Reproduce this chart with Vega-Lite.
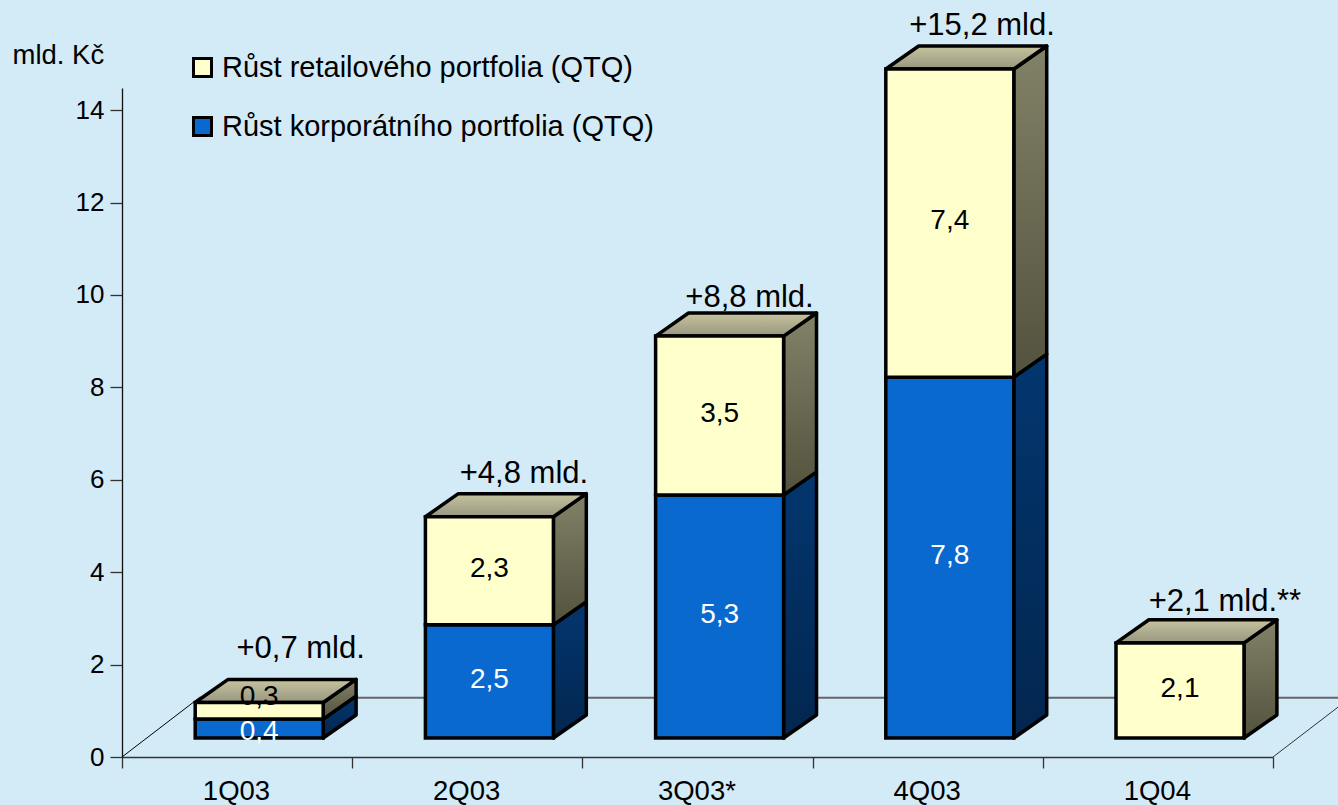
{
"$schema":"https://vega.github.io/schema/vega-lite/v6.json",
"width":1151,"height":669,
"autosize":{"type":"none"},
"padding":{"left":122,"top":88,"right":65,"bottom":48},
"background":"#D3EAF7",
"config":{"view":{"stroke":null},"font":"Liberation Sans","text":{"font":"Liberation Sans"}},
"data":{"values":[
{"quarter":"1Q03","series":"Růst korporátního portfolia (QTQ)","value":0.41,"label":"0,4"},
{"quarter":"1Q03","series":"Růst retailového portfolia (QTQ)","value":0.36,"label":"0,3","total":"+0,7 mld."},
{"quarter":"2Q03","series":"Růst korporátního portfolia (QTQ)","value":2.45,"label":"2,5"},
{"quarter":"2Q03","series":"Růst retailového portfolia (QTQ)","value":2.34,"label":"2,3","total":"+4,8 mld."},
{"quarter":"3Q03*","series":"Růst korporátního portfolia (QTQ)","value":5.26,"label":"5,3"},
{"quarter":"3Q03*","series":"Růst retailového portfolia (QTQ)","value":3.44,"label":"3,5","total":"+8,8 mld."},
{"quarter":"4Q03","series":"Růst korporátního portfolia (QTQ)","value":7.81,"label":"7,8"},
{"quarter":"4Q03","series":"Růst retailového portfolia (QTQ)","value":6.67,"label":"7,4","total":"+15,2 mld."},
{"quarter":"1Q04","series":"Růst retailového portfolia (QTQ)","value":2.06,"label":"2,1","total":"+2,1 mld.**"}
]},
"transform":[
{"stack":"value","groupby":["quarter"],"sort":[{"field":"series","order":"ascending"}],"as":["y0","y1"]},
{"calculate":"indexof(['1Q03','2Q03','3Q03*','4Q03','1Q04'],datum.quarter)","as":"i"},
{"calculate":"datum.i+0.318","as":"L"},
{"calculate":"datum.L+0.556","as":"R"},
{"calculate":"datum.y0+0.41","as":"ybot"},
{"calculate":"datum.y1+0.41","as":"ytop"},
{"calculate":"test(/retail/,datum.series)","as":"isRetail"}
],
"layer":[
{"data":{"values":[{}]},"mark":{"type":"rule","stroke":"#000000","strokeWidth":1},
 "encoding":{
  "x":{"datum":0,"type":"quantitative","title":null,"scale":{"domain":[0,5],"nice":false,"zero":false},
   "axis":{"values":[0,1,2,3,4,5],"grid":false,"title":null,"labelExpr":"['1Q03','2Q03','3Q03*','4Q03','1Q04',''][datum.value]","labelOffset":114,"labelFontSize":27.5,"labelColor":"#000000","labelFont":"Liberation Sans","labelPadding":9,"labelFlush":false,"labelBound":false,"labelOverlap":false,"labelAngle":0,"labelAlign":"center","tickSize":11,"tickColor":"#333333","tickWidth":1.3,"domainColor":"#333333","domainWidth":1.5}},
  "y":{"datum":0,"type":"quantitative","scale":{"domain":[0,14.48],"nice":false,"zero":false},
   "axis":{"values":[0,2,4,6,8,10,12,14],"grid":false,"title":"mld. Kč","titleAngle":0,"titleX":-110,"titleY":-25,"titleAlign":"left","titleBaseline":"alphabetic","titleFontSize":27.5,"titleFontWeight":"normal","titleFont":"Liberation Sans","titleColor":"#000000","labelFontSize":26,"labelColor":"#000000","labelFont":"Liberation Sans","labelPadding":6,"tickSize":12,"tickColor":"#333333","tickWidth":1.3,"domainColor":"#111111","domainWidth":1.3}},
  "x2":{"datum":0.335},"y2":{"datum":1.28}}},
{"data":{"values":[{}]},"mark":{"type":"rule","stroke":"#666666","strokeWidth":2},
 "encoding":{"x":{"datum":0.335,"type":"quantitative"},"y":{"datum":1.28,"type":"quantitative"},"x2":{"datum":5.335}}},
{"data":{"values":[{}]},"mark":{"type":"rule","stroke":"#333333","strokeWidth":1},
 "encoding":{"x":{"datum":5,"type":"quantitative"},"y":{"datum":0,"type":"quantitative"},"x2":{"datum":5.335},"y2":{"datum":1.28}}},
{"transform":[{"filter":"!datum.isRetail"},{"calculate":"[0,1]","as":"k"},{"flatten":["k"]},
  {"calculate":"datum.R+datum.k*0.143","as":"sx"},{"calculate":"datum.ytop+datum.k*0.5","as":"sy"},{"calculate":"datum.ybot+datum.k*0.5","as":"sy2"}],
 "mark":{"type":"area","stroke":"#000000","strokeWidth":3.5,"strokeJoin":"round","color":{"gradient":"linear","x1":0,"y1":0,"x2":0,"y2":1,"stops":[{"offset":0,"color":"#03366F"},{"offset":1,"color":"#02264F"}]},"fillOpacity":1},
 "encoding":{"x":{"field":"sx","type":"quantitative"},"y":{"field":"sy","type":"quantitative","stack":null},"y2":{"field":"sy2"},"detail":{"field":"quarter"}}},
{"transform":[{"filter":"datum.isRetail"},{"calculate":"[0,1]","as":"k"},{"flatten":["k"]},
  {"calculate":"datum.R+datum.k*0.143","as":"sx"},{"calculate":"datum.ytop+datum.k*0.5","as":"sy"},{"calculate":"datum.ybot+datum.k*0.5","as":"sy2"}],
 "mark":{"type":"area","stroke":"#000000","strokeWidth":3.5,"strokeJoin":"round","color":{"gradient":"linear","x1":0,"y1":0,"x2":0,"y2":1,"stops":[{"offset":0,"color":"#828268"},{"offset":1,"color":"#52523E"}]},"fillOpacity":1},
 "encoding":{"x":{"field":"sx","type":"quantitative"},"y":{"field":"sy","type":"quantitative","stack":null},"y2":{"field":"sy2"},"detail":{"field":"quarter"}}},
{"transform":[{"filter":"datum.isRetail"},{"calculate":"[0,1,2,3]","as":"k"},{"flatten":["k"]},
  {"calculate":"[datum.L,datum.L+0.143,datum.R,datum.R+0.143][datum.k]","as":"tx"},
  {"calculate":"datum.ytop+[0,0,0,0.5][datum.k]","as":"ty"},
  {"calculate":"datum.ytop+[0,0.5,0.5,0.5][datum.k]","as":"ty2"}],
 "mark":{"type":"area","stroke":"#000000","strokeWidth":3.5,"strokeJoin":"round","color":{"gradient":"linear","x1":0,"y1":0,"x2":0,"y2":1,"stops":[{"offset":0,"color":"#C6C49E"},{"offset":1,"color":"#989680"}]},"fillOpacity":1},
 "encoding":{"x":{"field":"tx","type":"quantitative"},"y":{"field":"ty","type":"quantitative","stack":null},"y2":{"field":"ty2"},"detail":{"field":"quarter"}}},
{"mark":{"type":"rect","stroke":"#000000","strokeWidth":3.5,"strokeJoin":"miter"},
 "encoding":{"x":{"field":"L","type":"quantitative"},"x2":{"field":"R"},"y":{"field":"ytop","type":"quantitative"},"y2":{"field":"ybot"},
  "fill":{"field":"series","type":"nominal","scale":{"domain":["Růst retailového portfolia (QTQ)","Růst korporátního portfolia (QTQ)"],"range":["#FFFFCC","#0A69CE"]},
   "legend":{"title":null,"orient":"none","legendX":66,"legendY":-35,"padding":0,"symbolType":"square","symbolSize":324,"symbolStrokeColor":"#000000","symbolStrokeWidth":3,"symbolOpacity":1,"labelFontSize":29,"labelFont":"Liberation Sans","labelColor":"#000000","labelOffset":5,"rowPadding":28,"labelLimit":700}}}},
{"transform":[{"calculate":"(datum.ybot+datum.ytop)/2+(datum.value<0.5?(datum.isRetail?0.3:-0.07):0.04)","as":"ly"},{"calculate":"(datum.L+datum.R)/2","as":"lx"}],
 "mark":{"type":"text","fontSize":28,"font":"Liberation Sans","baseline":"middle","align":"center"},
 "encoding":{"x":{"field":"lx","type":"quantitative"},"y":{"field":"ly","type":"quantitative"},"text":{"field":"label"},
  "color":{"condition":{"test":"datum.isRetail","value":"#000000"},"value":"#FFFFFF"}}},
{"transform":[{"filter":"datum.isRetail"},{"calculate":"(datum.L+datum.R)/2+[0.18,0.15,0.13,0.14,0.195][datum.i]","as":"lx"},{"calculate":"datum.ytop+0.5+[0.65,0.43,0.32,0.43,0.39][datum.i]","as":"ly"}],
 "mark":{"type":"text","fontSize":31,"font":"Liberation Sans","baseline":"middle","align":"center","color":"#000000"},
 "encoding":{"x":{"field":"lx","type":"quantitative"},"y":{"field":"ly","type":"quantitative"},"text":{"field":"total"}}}
]
}
